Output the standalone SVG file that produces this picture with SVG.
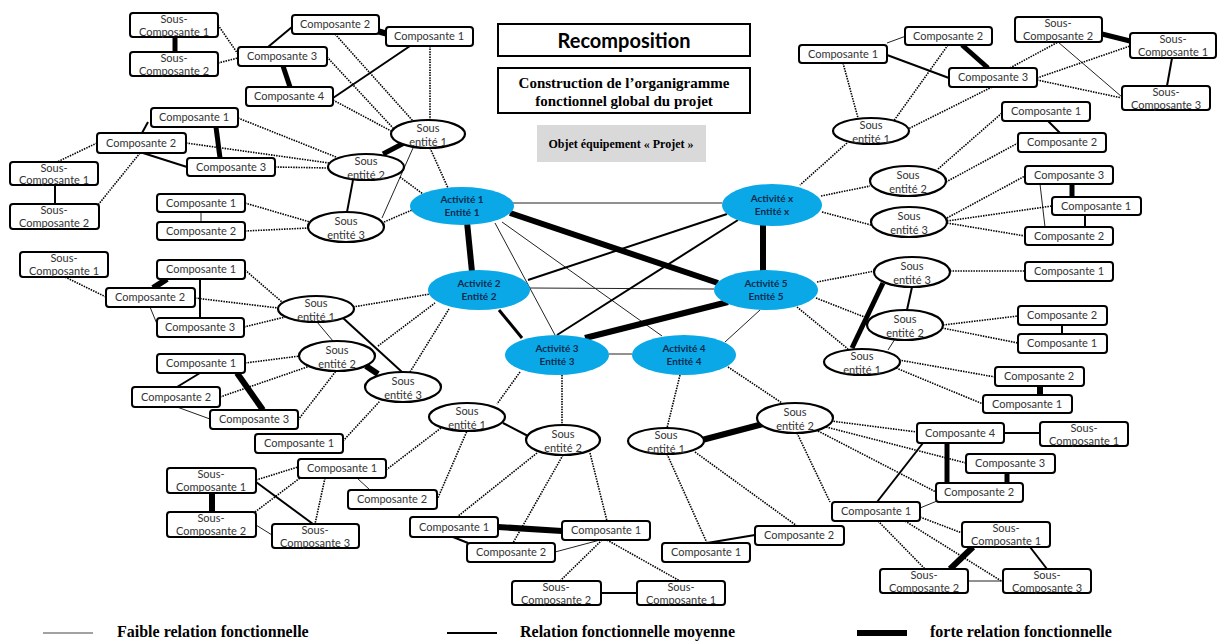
<svg xmlns="http://www.w3.org/2000/svg" width="1219" height="641" viewBox="0 0 1219 641">
<style>
.bx{fill:#fff;stroke:#000;stroke-width:2}
.se{fill:#fff;stroke:#000;stroke-width:2.2}
.act{fill:#0aa8e6}
.t{font-family:Lato,"Liberation Sans",sans-serif;font-size:11px;fill:#333;text-anchor:middle}
.ta{font-family:Lato,"Liberation Sans",sans-serif;font-size:10px;font-weight:bold;fill:#0d2b4e;text-anchor:middle}
.dot{stroke:#000;stroke-width:1.6;stroke-dasharray:1.5 1.1;fill:none}
.thin{stroke:#222;stroke-width:1}
.med{stroke:#000;stroke-width:2}
.m3{stroke:#000;stroke-width:3}
.thk{stroke:#000;stroke-width:6}
.thk5{stroke:#000;stroke-width:5}
.ser{font-family:"Liberation Serif",serif;font-weight:bold;fill:#000;text-anchor:middle}
.lg{font-family:"Liberation Serif",serif;font-weight:bold;fill:#000;font-size:16px}
</style>

<g id="connectors">
<!-- top-left cluster -->
<line class="thk5" x1="175" y1="37" x2="175" y2="52"/>
<line class="dot" x1="218" y1="25" x2="238" y2="54"/>
<line class="dot" x1="218" y1="63" x2="238" y2="58"/>
<line class="med" x1="268" y1="47" x2="292" y2="27"/>
<line class="thk" x1="377" y1="31" x2="388" y2="34"/>
<line class="thk5" x1="283" y1="66" x2="290" y2="87"/>
<line class="med" x1="410" y1="46" x2="333" y2="98"/>
<line class="dot" x1="335" y1="34" x2="413" y2="121"/>
<line class="dot" x1="327" y1="57" x2="393" y2="128"/>
<line class="dot" x1="333" y1="100" x2="393" y2="132"/>
<line class="dot" x1="430" y1="46" x2="430" y2="120"/>
<line class="thk5" x1="383" y1="154" x2="404" y2="143"/>
<line class="med" x1="353" y1="180" x2="347" y2="212"/>
<line class="thin" x1="413" y1="148" x2="382" y2="218"/>
<line class="dot" x1="430" y1="148" x2="448" y2="188"/>
<line class="dot" x1="400" y1="177" x2="423" y2="194"/>
<line class="dot" x1="384" y1="222" x2="412" y2="210"/>
<line class="thk5" x1="216" y1="127" x2="220" y2="158"/>
<line class="med" x1="148" y1="122" x2="142" y2="133"/>
<line class="med" x1="143" y1="153" x2="187" y2="167"/>
<line class="med" x1="55" y1="185" x2="55" y2="204"/>
<line class="dot" x1="97" y1="143" x2="57" y2="162"/>
<line class="dot" x1="140" y1="153" x2="98" y2="205"/>
<line class="dot" x1="238" y1="118" x2="336" y2="157"/>
<line class="dot" x1="186" y1="143" x2="329" y2="163"/>
<line class="dot" x1="275" y1="167" x2="328" y2="168"/>
<line class="thin" x1="201" y1="212" x2="201" y2="222"/>
<line class="dot" x1="245" y1="203" x2="310" y2="222"/>
<line class="dot" x1="245" y1="231" x2="309" y2="228"/>
<!-- left-middle cluster -->
<line class="thk" x1="167" y1="279" x2="153" y2="288"/>
<line class="med" x1="200" y1="279" x2="200" y2="318"/>
<line class="thin" x1="150" y1="307" x2="157" y2="324"/>
<line class="dot" x1="65" y1="277" x2="106" y2="297"/>
<line class="dot" x1="245" y1="270" x2="282" y2="302"/>
<line class="dot" x1="195" y1="298" x2="278" y2="308"/>
<line class="dot" x1="244" y1="327" x2="285" y2="317"/>
<line class="dot" x1="353" y1="307" x2="430" y2="294"/>
<line class="thk" x1="366" y1="366" x2="378" y2="374"/>
<line class="med" x1="343" y1="318" x2="402" y2="372"/>
<line class="thin" x1="317" y1="322" x2="333" y2="341"/>
<line class="dot" x1="378" y1="346" x2="435" y2="303"/>
<line class="dot" x1="410" y1="372" x2="449" y2="309"/>
<line class="thk" x1="237" y1="373" x2="263" y2="410"/>
<line class="med" x1="200" y1="373" x2="177" y2="387"/>
<line class="thin" x1="177" y1="407" x2="210" y2="419"/>
<line class="dot" x1="245" y1="363" x2="300" y2="356"/>
<line class="dot" x1="220" y1="397" x2="310" y2="366"/>
<line class="dot" x1="298" y1="420" x2="336" y2="371"/>
<line class="dot" x1="343" y1="441" x2="380" y2="401"/>
<!-- activities -->
<line class="thk" x1="467" y1="222" x2="472" y2="272"/>
<line class="thk" x1="510" y1="213" x2="718" y2="283"/>
<line class="thin" x1="513" y1="203" x2="722" y2="203"/>
<line class="thin" x1="495" y1="223" x2="555" y2="335"/>
<line class="thin" x1="502" y1="222" x2="662" y2="336"/>
<line class="m3" x1="499" y1="310" x2="522" y2="338"/>
<line class="med" x1="528" y1="280" x2="727" y2="214"/>
<line class="thin" x1="530" y1="288" x2="714" y2="289"/>
<line class="med" x1="557" y1="335" x2="738" y2="220"/>
<line class="thk" x1="585" y1="338" x2="728" y2="302"/>
<line class="thin" x1="609" y1="354" x2="632" y2="354"/>
<line class="thin" x1="725" y1="342" x2="760" y2="310"/>
<line class="thk" x1="763" y1="224" x2="763" y2="271"/>
<!-- top-right cluster -->
<line class="thk5" x1="962" y1="45" x2="988" y2="68"/>
<line class="med" x1="887" y1="55" x2="949" y2="78"/>
<line class="thin" x1="887" y1="43" x2="906" y2="36"/>
<line class="thk5" x1="1102" y1="34" x2="1130" y2="41"/>
<line class="med" x1="1172" y1="58" x2="1167" y2="86"/>
<line class="thin" x1="1058" y1="42" x2="1122" y2="97"/>
<line class="dot" x1="1010" y1="68" x2="1058" y2="42"/>
<line class="dot" x1="1037" y1="78" x2="1130" y2="46"/>
<line class="dot" x1="1037" y1="80" x2="1122" y2="98"/>
<line class="dot" x1="948" y1="45" x2="893" y2="122"/>
<line class="dot" x1="992" y1="87" x2="908" y2="129"/>
<line class="dot" x1="843" y1="63" x2="858" y2="118"/>
<line class="dot" x1="847" y1="143" x2="800" y2="185"/>
<line class="med" x1="1048" y1="121" x2="1060" y2="133"/>
<line class="dot" x1="938" y1="169" x2="1002" y2="113"/>
<line class="dot" x1="946" y1="182" x2="1018" y2="143"/>
<line class="dot" x1="821" y1="196" x2="870" y2="186"/>
<line class="thk5" x1="1072" y1="184" x2="1072" y2="197"/>
<line class="med" x1="1085" y1="215" x2="1085" y2="227"/>
<line class="thin" x1="1040" y1="184" x2="1045" y2="227"/>
<line class="dot" x1="947" y1="218" x2="1025" y2="176"/>
<line class="dot" x1="947" y1="221" x2="1052" y2="206"/>
<line class="dot" x1="947" y1="223" x2="1025" y2="236"/>
<line class="dot" x1="822" y1="212" x2="871" y2="225"/>
<!-- right-middle cluster -->
<line class="dot" x1="950" y1="271" x2="1025" y2="271"/>
<line class="med" x1="912" y1="287" x2="907" y2="310"/>
<line class="dot" x1="943" y1="325" x2="1018" y2="316"/>
<line class="dot" x1="942" y1="328" x2="1018" y2="343"/>
<line class="med" x1="1062" y1="325" x2="1062" y2="334"/>
<line class="thk5" x1="883" y1="283" x2="852" y2="348"/>
<line class="thin" x1="895" y1="339" x2="888" y2="350"/>
<line class="dot" x1="817" y1="282" x2="875" y2="271"/>
<line class="dot" x1="816" y1="298" x2="867" y2="318"/>
<line class="dot" x1="797" y1="307" x2="848" y2="349"/>
<line class="thk" x1="1040" y1="386" x2="1040" y2="395"/>
<line class="dot" x1="899" y1="360" x2="995" y2="377"/>
<line class="dot" x1="896" y1="368" x2="983" y2="404"/>
<!-- bottom-left and bottom-centre clusters -->
<line class="dot" x1="520" y1="372" x2="497" y2="404"/>
<line class="dot" x1="562" y1="375" x2="562" y2="425"/>
<line class="med" x1="503" y1="423" x2="528" y2="436"/>
<line class="thin" x1="357" y1="478" x2="370" y2="490"/>
<line class="thk" x1="212" y1="493" x2="212" y2="512"/>
<line class="med" x1="256" y1="482" x2="313" y2="524"/>
<line class="thin" x1="256" y1="525" x2="272" y2="535"/>
<line class="dot" x1="256" y1="480" x2="298" y2="467"/>
<line class="dot" x1="255" y1="512" x2="300" y2="478"/>
<line class="dot" x1="325" y1="478" x2="315" y2="524"/>
<line class="dot" x1="386" y1="470" x2="441" y2="428"/>
<line class="dot" x1="437" y1="500" x2="467" y2="431"/>
<line class="thk" x1="498" y1="527" x2="562" y2="531"/>
<line class="med" x1="453" y1="537" x2="468" y2="543"/>
<line class="thin" x1="555" y1="552" x2="600" y2="540"/>
<line class="med" x1="601" y1="593" x2="637" y2="593"/>
<line class="dot" x1="537" y1="453" x2="457" y2="517"/>
<line class="dot" x1="563" y1="455" x2="513" y2="543"/>
<line class="dot" x1="590" y1="453" x2="607" y2="521"/>
<line class="dot" x1="602" y1="540" x2="560" y2="581"/>
<line class="dot" x1="607" y1="540" x2="680" y2="581"/>
<!-- bottom-right cluster -->
<line class="dot" x1="680" y1="375" x2="667" y2="428"/>
<line class="dot" x1="728" y1="367" x2="782" y2="403"/>
<line class="thk" x1="702" y1="440" x2="763" y2="424"/>
<line class="dot" x1="667" y1="454" x2="707" y2="543"/>
<line class="dot" x1="695" y1="452" x2="797" y2="526"/>
<line class="med" x1="707" y1="543" x2="755" y2="535"/>
<line class="dot" x1="797" y1="433" x2="830" y2="502"/>
<line class="dot" x1="831" y1="421" x2="917" y2="432"/>
<line class="dot" x1="826" y1="427" x2="966" y2="463"/>
<line class="dot" x1="818" y1="431" x2="936" y2="492"/>
<line class="med" x1="1004" y1="433" x2="1040" y2="433"/>
<line class="thk5" x1="947" y1="443" x2="947" y2="483"/>
<line class="thk5" x1="1007" y1="473" x2="1007" y2="483"/>
<line class="thin" x1="920" y1="508" x2="937" y2="501"/>
<line class="med" x1="877" y1="502" x2="923" y2="443"/>
<line class="dot" x1="920" y1="517" x2="962" y2="533"/>
<line class="dot" x1="905" y1="521" x2="1003" y2="582"/>
<line class="dot" x1="878" y1="521" x2="925" y2="569"/>
<line class="thk" x1="973" y1="547" x2="950" y2="569"/>
<line class="med" x1="1030" y1="547" x2="1047" y2="569"/>
<line class="thin" x1="968" y1="581" x2="1003" y2="581"/>
</g>

<!-- titles -->
<g id="title">
<rect x="498" y="24" width="252" height="32" fill="#fff" stroke="#000" stroke-width="2"/>
<text x="624" y="48" style="font-family:Lato,'Liberation Sans',sans-serif;font-size:20px;font-weight:bold;fill:#000;text-anchor:middle">Recomposition</text>
</g>
<g id="subtitle">
<rect x="498" y="68" width="252" height="45" fill="#fff" stroke="#000" stroke-width="2"/>
<text class="ser" x="624" y="88" font-size="15">Construction de l’organigramme</text>
<text class="ser" x="624" y="106" font-size="15">fonctionnel global du projet</text>
</g>
<g id="objet">
<rect x="537" y="125" width="169" height="37" fill="#d9d9d9"/>
<text class="ser" x="621" y="148" font-size="12">Objet équipement « Projet »</text>
</g>

<!-- activities -->
<g id="act1"><ellipse class="act" cx="462" cy="206" rx="52" ry="19"/><text class="ta" x="462" y="203">Activité 1</text><text class="ta" x="462" y="216">Entité 1</text></g>
<g id="act2"><ellipse class="act" cx="479" cy="290" rx="51" ry="20"/><text class="ta" x="479" y="287">Activité 2</text><text class="ta" x="479" y="300">Entité 2</text></g>
<g id="act3"><ellipse class="act" cx="557" cy="355" rx="52" ry="20"/><text class="ta" x="557" y="352">Activité 3</text><text class="ta" x="557" y="365">Entité 3</text></g>
<g id="act4"><ellipse class="act" cx="684" cy="355" rx="52" ry="20"/><text class="ta" x="684" y="352">Activité 4</text><text class="ta" x="684" y="365">Entité 4</text></g>
<g id="act5"><ellipse class="act" cx="766" cy="290" rx="52" ry="20"/><text class="ta" x="766" y="287">Activité 5</text><text class="ta" x="766" y="300">Entité 5</text></g>
<g id="actx"><ellipse class="act" cx="772" cy="205" rx="50" ry="21"/><text class="ta" x="772" y="202">Activité x</text><text class="ta" x="772" y="215">Entité x</text></g>

<!-- sub-entities -->
<g id="se-tl1"><ellipse class="se" cx="428" cy="134" rx="37" ry="14"/><text class="t" x="428" y="132">Sous</text><text class="t" x="428" y="146">entité 1</text></g>
<g id="se-tl2"><ellipse class="se" cx="366" cy="167" rx="38" ry="13"/><text class="t" x="366" y="165">Sous</text><text class="t" x="366" y="179">entité 2</text></g>
<g id="se-tl3"><ellipse class="se" cx="346" cy="227" rx="38" ry="15"/><text class="t" x="346" y="225">Sous</text><text class="t" x="346" y="239">entité 3</text></g>
<g id="se-l1"><ellipse class="se" cx="316" cy="309" rx="38" ry="13"/><text class="t" x="316" y="307">Sous</text><text class="t" x="316" y="321">entité 1</text></g>
<g id="se-l2"><ellipse class="se" cx="337" cy="356" rx="38" ry="15"/><text class="t" x="337" y="354">Sous</text><text class="t" x="337" y="368">entité 2</text></g>
<g id="se-l3"><ellipse class="se" cx="403" cy="387" rx="38" ry="15"/><text class="t" x="403" y="385">Sous</text><text class="t" x="403" y="399">entité 3</text></g>
<g id="se-b1"><ellipse class="se" cx="467" cy="417" rx="38" ry="14"/><text class="t" x="467" y="415">Sous</text><text class="t" x="467" y="429">entité 1</text></g>
<g id="se-b2"><ellipse class="se" cx="563" cy="440" rx="37" ry="15"/><text class="t" x="563" y="438">Sous</text><text class="t" x="563" y="452">entité 2</text></g>
<g id="se-br1"><ellipse class="se" cx="666" cy="441" rx="38" ry="13"/><text class="t" x="666" y="439">Sous</text><text class="t" x="666" y="453">entité 1</text></g>
<g id="se-br2"><ellipse class="se" cx="795" cy="418" rx="38" ry="15"/><text class="t" x="795" y="416">Sous</text><text class="t" x="795" y="430">entité 2</text></g>
<g id="se-r3"><ellipse class="se" cx="912" cy="272" rx="38" ry="15"/><text class="t" x="912" y="270">Sous</text><text class="t" x="912" y="284">entité 3</text></g>
<g id="se-r2"><ellipse class="se" cx="905" cy="325" rx="38" ry="15"/><text class="t" x="905" y="323">Sous</text><text class="t" x="905" y="337">entité 2</text></g>
<g id="se-r1"><ellipse class="se" cx="862" cy="362" rx="38" ry="13"/><text class="t" x="862" y="360">Sous</text><text class="t" x="862" y="374">entité 1</text></g>
<g id="se-tr1"><ellipse class="se" cx="871" cy="131" rx="38" ry="13"/><text class="t" x="871" y="129">Sous</text><text class="t" x="871" y="143">entité 1</text></g>
<g id="se-tr2"><ellipse class="se" cx="908" cy="181" rx="38" ry="15"/><text class="t" x="908" y="179">Sous</text><text class="t" x="908" y="193">entité 2</text></g>
<g id="se-tr3"><ellipse class="se" cx="909" cy="222" rx="38" ry="15"/><text class="t" x="909" y="220">Sous</text><text class="t" x="909" y="234">entité 3</text></g>

<!-- component boxes: top-left -->
<g id="tl-sc1"><rect class="bx" x="130" y="13" width="88" height="24" rx="3"/><text class="t" x="174" y="23">Sous-</text><text class="t" x="174" y="36">Composante 1</text></g>
<g id="tl-sc2"><rect class="bx" x="130" y="52" width="88" height="24" rx="3"/><text class="t" x="174" y="62">Sous-</text><text class="t" x="174" y="75">Composante 2</text></g>
<g id="tl-c3"><rect class="bx" x="238" y="47" width="89" height="19" rx="3"/><text class="t" x="282" y="60">Composante 3</text></g>
<g id="tl-c2"><rect class="bx" x="292" y="15" width="87" height="19" rx="3"/><text class="t" x="335" y="28">Composante 2</text></g>
<g id="tl-c1"><rect class="bx" x="386" y="27" width="87" height="19" rx="3"/><text class="t" x="429" y="40">Composante 1</text></g>
<g id="tl-c4"><rect class="bx" x="246" y="87" width="87" height="19" rx="3"/><text class="t" x="289" y="100">Composante 4</text></g>
<g id="l-c1"><rect class="bx" x="151" y="108" width="87" height="19" rx="3"/><text class="t" x="194" y="121">Composante 1</text></g>
<g id="l-c2"><rect class="bx" x="97" y="133" width="89" height="20" rx="3"/><text class="t" x="141" y="147">Composante 2</text></g>
<g id="l-c3"><rect class="bx" x="187" y="158" width="88" height="18" rx="3"/><text class="t" x="231" y="171">Composante 3</text></g>
<g id="l-sc1"><rect class="bx" x="10" y="162" width="88" height="23" rx="3"/><text class="t" x="54" y="172">Sous-</text><text class="t" x="54" y="184">Composante 1</text></g>
<g id="l-sc2"><rect class="bx" x="10" y="204" width="89" height="25" rx="3"/><text class="t" x="54" y="214">Sous-</text><text class="t" x="54" y="227">Composante 2</text></g>
<g id="l-c1b"><rect class="bx" x="157" y="194" width="88" height="18" rx="3"/><text class="t" x="201" y="207">Composante 1</text></g>
<g id="l-c2b"><rect class="bx" x="157" y="222" width="88" height="18" rx="3"/><text class="t" x="201" y="235">Composante 2</text></g>

<!-- left-middle -->
<g id="lm-sc1"><rect class="bx" x="20" y="252" width="88" height="25" rx="3"/><text class="t" x="64" y="262">Sous-</text><text class="t" x="64" y="275">Composante 1</text></g>
<g id="lm-c1"><rect class="bx" x="157" y="260" width="88" height="19" rx="3"/><text class="t" x="201" y="273">Composante 1</text></g>
<g id="lm-c2"><rect class="bx" x="106" y="288" width="89" height="19" rx="3"/><text class="t" x="150" y="301">Composante 2</text></g>
<g id="lm-c3"><rect class="bx" x="157" y="318" width="87" height="19" rx="3"/><text class="t" x="200" y="331">Composante 3</text></g>
<g id="lm-c1b"><rect class="bx" x="157" y="354" width="88" height="19" rx="3"/><text class="t" x="201" y="367">Composante 1</text></g>
<g id="lm-c2b"><rect class="bx" x="132" y="387" width="88" height="20" rx="3"/><text class="t" x="176" y="401">Composante 2</text></g>
<g id="lm-c3b"><rect class="bx" x="210" y="410" width="88" height="19" rx="3"/><text class="t" x="254" y="423">Composante 3</text></g>
<g id="lm-c1c"><rect class="bx" x="255" y="434" width="88" height="19" rx="3"/><text class="t" x="299" y="447">Composante 1</text></g>

<!-- bottom-left -->
<g id="bl-sc1"><rect class="bx" x="167" y="468" width="89" height="25" rx="3"/><text class="t" x="211" y="478">Sous-</text><text class="t" x="211" y="491">Composante 1</text></g>
<g id="bl-sc2"><rect class="bx" x="167" y="512" width="89" height="25" rx="3"/><text class="t" x="211" y="522">Sous-</text><text class="t" x="211" y="535">Composante 2</text></g>
<g id="bl-sc3"><rect class="bx" x="272" y="524" width="87" height="24" rx="3"/><text class="t" x="315" y="534">Sous-</text><text class="t" x="315" y="547">Composante 3</text></g>
<g id="bl-c1"><rect class="bx" x="298" y="459" width="88" height="19" rx="3"/><text class="t" x="342" y="472">Composante 1</text></g>
<g id="bl-c2"><rect class="bx" x="348" y="490" width="89" height="19" rx="3"/><text class="t" x="392" y="503">Composante 2</text></g>

<!-- bottom-centre -->
<g id="bc-c1"><rect class="bx" x="410" y="517" width="88" height="20" rx="3"/><text class="t" x="454" y="531">Composante 1</text></g>
<g id="bc-c2"><rect class="bx" x="467" y="543" width="88" height="19" rx="3"/><text class="t" x="511" y="556">Composante 2</text></g>
<g id="bc-c1r"><rect class="bx" x="562" y="521" width="88" height="19" rx="3"/><text class="t" x="606" y="534">Composante 1</text></g>
<g id="bc-sc2"><rect class="bx" x="512" y="581" width="89" height="24" rx="3"/><text class="t" x="556" y="591">Sous-</text><text class="t" x="556" y="604">Composante 2</text></g>
<g id="bc-sc1"><rect class="bx" x="637" y="581" width="88" height="24" rx="3"/><text class="t" x="681" y="591">Sous-</text><text class="t" x="681" y="604">Composante 1</text></g>

<!-- bottom-right -->
<g id="br-c1"><rect class="bx" x="662" y="543" width="88" height="19" rx="3"/><text class="t" x="706" y="556">Composante 1</text></g>
<g id="br-c2"><rect class="bx" x="755" y="526" width="89" height="19" rx="3"/><text class="t" x="799" y="539">Composante 2</text></g>
<g id="br-c1x"><rect class="bx" x="832" y="502" width="88" height="19" rx="3"/><text class="t" x="876" y="515">Composante 1</text></g>
<g id="br-c4"><rect class="bx" x="917" y="423" width="87" height="20" rx="3"/><text class="t" x="960" y="437">Composante 4</text></g>
<g id="br-sc1a"><rect class="bx" x="1040" y="422" width="88" height="24" rx="3"/><text class="t" x="1084" y="432">Sous-</text><text class="t" x="1084" y="445">Composante 1</text></g>
<g id="br-c3"><rect class="bx" x="966" y="454" width="89" height="19" rx="3"/><text class="t" x="1010" y="467">Composante 3</text></g>
<g id="br-c2b"><rect class="bx" x="936" y="483" width="87" height="19" rx="3"/><text class="t" x="979" y="496">Composante 2</text></g>
<g id="br-sc1"><rect class="bx" x="962" y="522" width="88" height="25" rx="3"/><text class="t" x="1006" y="532">Sous-</text><text class="t" x="1006" y="545">Composante 1</text></g>
<g id="br-sc2"><rect class="bx" x="880" y="569" width="88" height="24" rx="3"/><text class="t" x="924" y="579">Sous-</text><text class="t" x="924" y="592">Composante 2</text></g>
<g id="br-sc3"><rect class="bx" x="1003" y="569" width="88" height="24" rx="3"/><text class="t" x="1047" y="579">Sous-</text><text class="t" x="1047" y="592">Composante 3</text></g>

<!-- right-middle -->
<g id="rm-c1"><rect class="bx" x="1025" y="262" width="88" height="19" rx="3"/><text class="t" x="1069" y="275">Composante 1</text></g>
<g id="rm-c2"><rect class="bx" x="1018" y="306" width="89" height="19" rx="3"/><text class="t" x="1062" y="319">Composante 2</text></g>
<g id="rm-c1b"><rect class="bx" x="1018" y="334" width="89" height="19" rx="3"/><text class="t" x="1062" y="347">Composante 1</text></g>
<g id="rm-c2b"><rect class="bx" x="995" y="367" width="89" height="19" rx="3"/><text class="t" x="1039" y="380">Composante 2</text></g>
<g id="rm-c1c"><rect class="bx" x="983" y="395" width="89" height="18" rx="3"/><text class="t" x="1027" y="408">Composante 1</text></g>

<!-- right-upper -->
<g id="ru-c1"><rect class="bx" x="1002" y="102" width="88" height="19" rx="3"/><text class="t" x="1046" y="115">Composante 1</text></g>
<g id="ru-c2"><rect class="bx" x="1018" y="133" width="88" height="19" rx="3"/><text class="t" x="1062" y="146">Composante 2</text></g>
<g id="ru-c3"><rect class="bx" x="1025" y="166" width="88" height="18" rx="3"/><text class="t" x="1069" y="179">Composante 3</text></g>
<g id="ru-c1b"><rect class="bx" x="1052" y="197" width="89" height="18" rx="3"/><text class="t" x="1096" y="210">Composante 1</text></g>
<g id="ru-c2b"><rect class="bx" x="1025" y="227" width="88" height="18" rx="3"/><text class="t" x="1069" y="240">Composante 2</text></g>

<!-- top-right -->
<g id="tr-c1"><rect class="bx" x="799" y="45" width="88" height="18" rx="3"/><text class="t" x="843" y="58">Composante 1</text></g>
<g id="tr-c2"><rect class="bx" x="905" y="27" width="87" height="18" rx="3"/><text class="t" x="948" y="40">Composante 2</text></g>
<g id="tr-c3"><rect class="bx" x="949" y="68" width="88" height="19" rx="3"/><text class="t" x="993" y="81">Composante 3</text></g>
<g id="tr-sc2"><rect class="bx" x="1015" y="17" width="87" height="25" rx="3"/><text class="t" x="1058" y="27">Sous-</text><text class="t" x="1058" y="40">Composante 2</text></g>
<g id="tr-sc1"><rect class="bx" x="1130" y="33" width="86" height="25" rx="3"/><text class="t" x="1173" y="43">Sous-</text><text class="t" x="1173" y="56">Composante 1</text></g>
<g id="tr-sc3"><rect class="bx" x="1122" y="86" width="88" height="24" rx="3"/><text class="t" x="1166" y="96">Sous-</text><text class="t" x="1166" y="109">Composante 3</text></g>

<!-- legend -->
<g id="legend">
<line x1="43" y1="633" x2="93" y2="633" stroke="#444" stroke-width="1"/>
<text class="lg" x="117" y="637">Faible relation fonctionnelle</text>
<line x1="447" y1="633" x2="497" y2="633" stroke="#000" stroke-width="2"/>
<text class="lg" x="520" y="637">Relation fonctionnelle moyenne</text>
<line x1="857" y1="633" x2="907" y2="633" stroke="#000" stroke-width="6"/>
<text class="lg" x="930" y="637">forte relation fonctionnelle</text>
</g>
</svg>
